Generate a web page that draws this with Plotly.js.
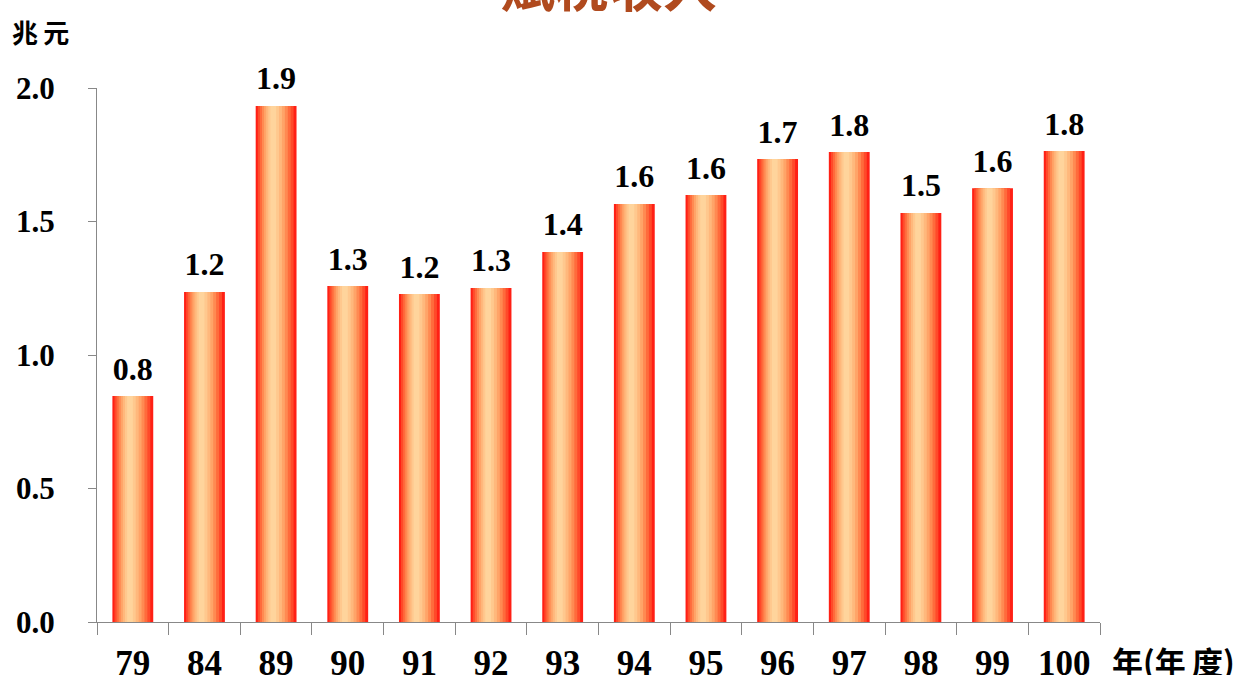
<!DOCTYPE html>
<html>
<head>
<meta charset="utf-8">
<script src="https://cdn.plot.ly/plotly-3.0.1.min.js"></script>
<style>html,body{margin:0;padding:0;background:#fff;}#chart{width:1255px;height:675px;}</style>
</head>
<body>
<div id="chart"></div>
<script>
const years = ['79','84','89','90','91','92','93','94','95','96','97','98','99','100'];
const revenue = [0.846, 1.236, 1.933, 1.258, 1.228, 1.251, 1.386, 1.566, 1.599, 1.734, 1.760, 1.532, 1.625, 1.764];
const chartTitle = '賦稅收入';
const yUnit = '兆\u2009元';
const xUnit = '年(年\u2009度)';

// gradient layers (edge red -> centre peach), drawn as overlaid bars of decreasing width
const layers = [
  {w: 0.57, c: '#ff2015'},
  {w: 0.50, c: '#ff4a2a'},
  {w: 0.43, c: '#ff6b3c'},
  {w: 0.36, c: '#ff8a52'},
  {w: 0.29, c: '#ffa468'},
  {w: 0.22, c: '#ffb87c'},
  {w: 0.15, c: '#ffc88e'},
  {w: 0.08, c: '#ffd49c'}
];

const traces = layers.map((L, i) => ({
  type: 'bar',
  x: years,
  y: revenue,
  width: L.w,
  offset: -L.w/2 - (i/ (layers.length-1)) * 0.04,
  marker: {color: L.c, line: {width: 0}},
  hoverinfo: 'skip',
  showlegend: false
}));

// value labels placed above each bar
traces.push({
  type: 'scatter',
  mode: 'markers+text',
  x: years,
  y: revenue,
  marker: {size: 12, opacity: 0},
  texttemplate: '%{y:.1f}',
  textposition: 'top center',
  textfont: {family: 'Liberation Serif', size: 32, weight: 'bold', color: '#000'},
  cliponaxis: false,
  hoverinfo: 'skip',
  showlegend: false
});

const layout = {
  width: 1255, height: 675,
  margin: {l: 97, r: 155, t: 88, b: 53},
  paper_bgcolor: '#fff', plot_bgcolor: '#fff',
  barmode: 'overlay',
  xaxis: {
    type: 'category',
    range: [-0.5, years.length - 0.5],
    showline: true, linecolor: '#888', linewidth: 1,
    ticks: 'outside', tickson: 'boundaries', ticklen: 12, tickcolor: '#888',
    ticklabelstandoff: 10,
    showgrid: false, zeroline: false,
    tickfont: {family: 'Liberation Serif', size: 35, weight: 'bold', color: '#000'}
  },
  yaxis: {
    range: [0, 2.0],
    dtick: 0.5, tickformat: '.1f',
    showline: true, linecolor: '#888', linewidth: 1,
    ticks: 'outside', ticklen: 8, tickcolor: '#888',
    ticklabelstandoff: 27,
    showgrid: false, zeroline: false,
    tickfont: {family: 'Liberation Serif', size: 31, weight: 'bold', color: '#000'}
  },
  annotations: [
    {text: chartTitle, xref: 'paper', yref: 'paper', x: 0.51, y: 1.0, yshift: 63, xanchor: 'center', yanchor: 'bottom', showarrow: false,
     font: {family: 'Noto Sans CJK TC', size: 54, weight: 'bold', color: '#b04a1e'}},
    {text: yUnit, xref: 'paper', yref: 'paper', x: 0, xshift: -87, y: 1.0, yshift: 57, xanchor: 'left', yanchor: 'middle', showarrow: false,
     font: {family: 'Noto Sans CJK TC', size: 26, weight: 'bold', color: '#000'}},
    {text: xUnit, xref: 'paper', yref: 'paper', x: 1.0, xshift: 10, y: 0, yshift: -38, xanchor: 'left', yanchor: 'middle', showarrow: false,
     font: {family: 'Noto Sans CJK TC', size: 31, weight: 'bold', color: '#000'}}
  ]
};

Plotly.newPlot('chart', traces, layout, {displayModeBar: false, staticPlot: true});
</script>
</body>
</html>
